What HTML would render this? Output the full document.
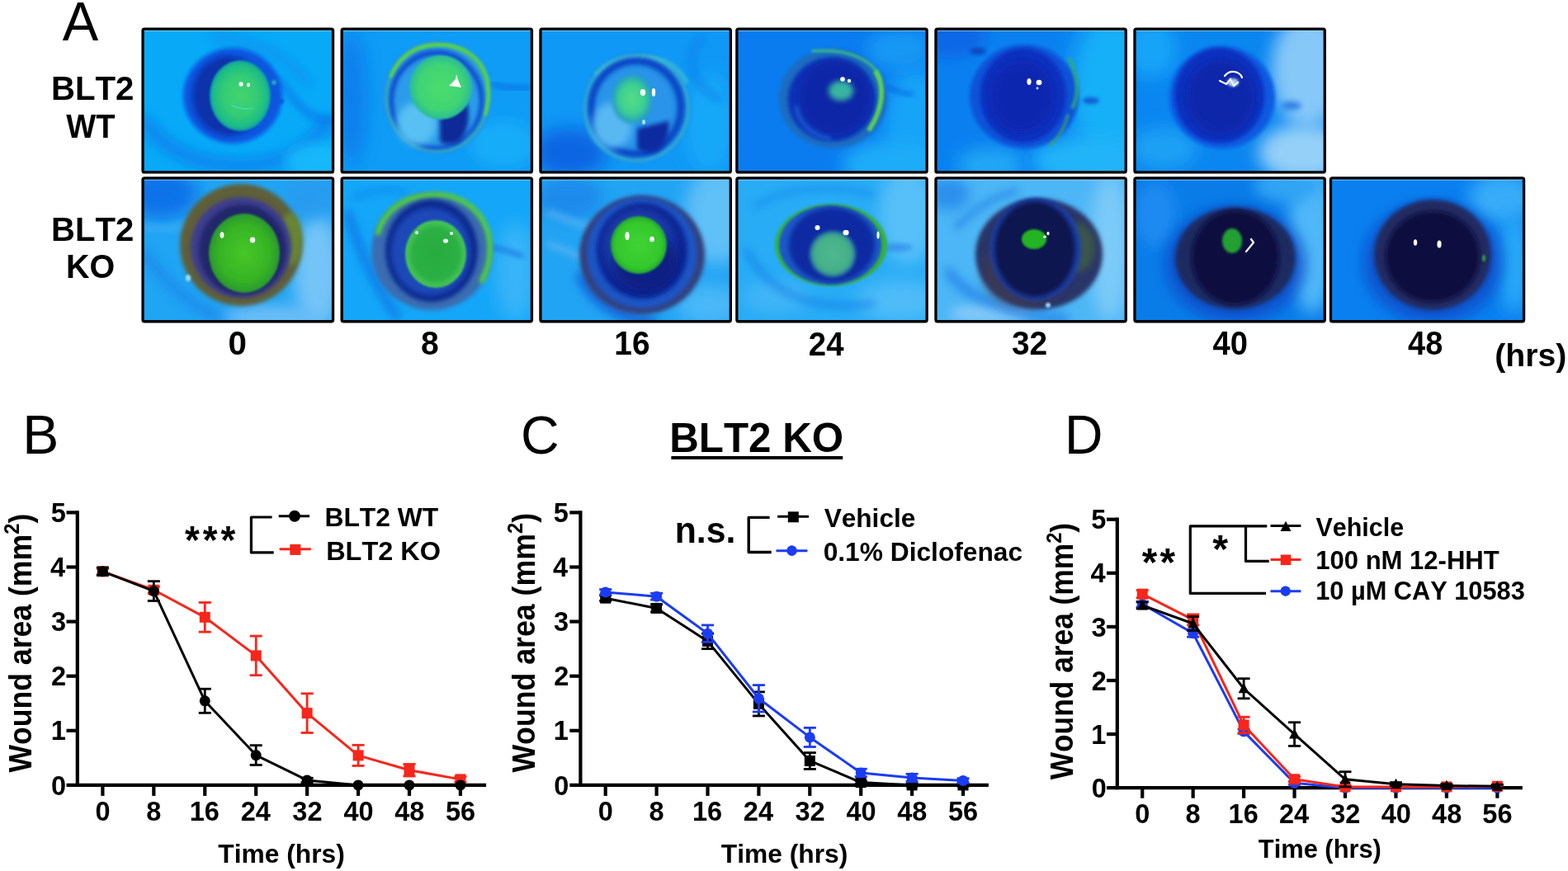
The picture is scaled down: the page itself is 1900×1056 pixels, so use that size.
<!DOCTYPE html>
<html><head><meta charset="utf-8"><title>BLT2 corneal wound healing figure</title>
<style>
html,body{margin:0;padding:0;background:#fff;width:1900px;height:1056px;overflow:hidden}
svg{display:block}
text{font-family:"Liberation Sans", Arial, Helvetica, sans-serif;font-kerning:none}
</style></head><body>
<svg width="1900" height="1056" viewBox="0 0 1900 1056">
<rect width="1900" height="1056" fill="#fff"/>
<defs>
<filter id="b0_3" x="-60%" y="-60%" width="220%" height="220%"><feGaussianBlur stdDeviation="0.3"/></filter>
<filter id="b0_4" x="-60%" y="-60%" width="220%" height="220%"><feGaussianBlur stdDeviation="0.4"/></filter>
<filter id="b0_5" x="-60%" y="-60%" width="220%" height="220%"><feGaussianBlur stdDeviation="0.5"/></filter>
<filter id="b0_6" x="-60%" y="-60%" width="220%" height="220%"><feGaussianBlur stdDeviation="0.6"/></filter>
<filter id="b1" x="-60%" y="-60%" width="220%" height="220%"><feGaussianBlur stdDeviation="1"/></filter>
<filter id="b1_2" x="-60%" y="-60%" width="220%" height="220%"><feGaussianBlur stdDeviation="1.2"/></filter>
<filter id="b1_5" x="-60%" y="-60%" width="220%" height="220%"><feGaussianBlur stdDeviation="1.5"/></filter>
<filter id="b2" x="-60%" y="-60%" width="220%" height="220%"><feGaussianBlur stdDeviation="2"/></filter>
<filter id="b2_2" x="-60%" y="-60%" width="220%" height="220%"><feGaussianBlur stdDeviation="2.2"/></filter>
<filter id="b2_5" x="-60%" y="-60%" width="220%" height="220%"><feGaussianBlur stdDeviation="2.5"/></filter>
<filter id="b3" x="-60%" y="-60%" width="220%" height="220%"><feGaussianBlur stdDeviation="3"/></filter>
<filter id="b4" x="-60%" y="-60%" width="220%" height="220%"><feGaussianBlur stdDeviation="4"/></filter>
<filter id="b5" x="-60%" y="-60%" width="220%" height="220%"><feGaussianBlur stdDeviation="5"/></filter>
<filter id="b6" x="-60%" y="-60%" width="220%" height="220%"><feGaussianBlur stdDeviation="6"/></filter>
<filter id="b7" x="-60%" y="-60%" width="220%" height="220%"><feGaussianBlur stdDeviation="7"/></filter>
<filter id="b8" x="-60%" y="-60%" width="220%" height="220%"><feGaussianBlur stdDeviation="8"/></filter>
<filter id="b10" x="-60%" y="-60%" width="220%" height="220%"><feGaussianBlur stdDeviation="10"/></filter>
<filter id="b12" x="-60%" y="-60%" width="220%" height="220%"><feGaussianBlur stdDeviation="12"/></filter>
<filter id="b14" x="-60%" y="-60%" width="220%" height="220%"><feGaussianBlur stdDeviation="14"/></filter>
<clipPath id="c0_0"><rect x="172.40" y="34.40" width="231.80" height="175.20"/></clipPath>
<radialGradient id="g0"><stop offset="0" stop-color="#44d470"/><stop offset="0.55" stop-color="#34cc74"/><stop offset="0.88" stop-color="#1cbc88"/><stop offset="1" stop-color="#0c98a8"/></radialGradient>
<clipPath id="c1_0"><rect x="413.50" y="34.40" width="231.60" height="175.20"/></clipPath>
<radialGradient id="g1"><stop offset="0" stop-color="#4cdc6c"/><stop offset="0.7" stop-color="#40d474"/><stop offset="1" stop-color="#28bc98"/></radialGradient>
<clipPath id="c2_0"><rect x="654.30" y="34.40" width="231.70" height="175.20"/></clipPath>
<radialGradient id="g2"><stop offset="0" stop-color="#58dc84"/><stop offset="0.6" stop-color="#3cd090"/><stop offset="1" stop-color="#2298c8"/></radialGradient>
<clipPath id="c3_0"><rect x="892.20" y="34.40" width="231.60" height="175.20"/></clipPath>
<clipPath id="c4_0"><rect x="1133.30" y="34.40" width="231.60" height="175.20"/></clipPath>
<clipPath id="c5_0"><rect x="1374.30" y="34.40" width="231.60" height="175.20"/></clipPath>
<clipPath id="c0_1"><rect x="172.40" y="215.20" width="231.80" height="175.20"/></clipPath>
<radialGradient id="g3"><stop offset="0" stop-color="#48c628"/><stop offset="0.7" stop-color="#36b424"/><stop offset="1" stop-color="#2a9830"/></radialGradient>
<clipPath id="c1_1"><rect x="413.50" y="215.20" width="231.60" height="175.20"/></clipPath>
<radialGradient id="g4"><stop offset="0" stop-color="#28ac40"/><stop offset="0.75" stop-color="#2cb044"/><stop offset="1" stop-color="#48c858"/></radialGradient>
<clipPath id="c2_1"><rect x="654.30" y="215.20" width="231.70" height="175.20"/></clipPath>
<radialGradient id="g5"><stop offset="0" stop-color="#40d434"/><stop offset="0.8" stop-color="#34c82c"/><stop offset="1" stop-color="#22a832"/></radialGradient>
<clipPath id="c3_1"><rect x="892.20" y="215.20" width="231.60" height="175.20"/></clipPath>
<radialGradient id="g6"><stop offset="0" stop-color="#50b890"/><stop offset="0.75" stop-color="#44b088"/><stop offset="1" stop-color="#2a80a0"/></radialGradient>
<clipPath id="c4_1"><rect x="1133.30" y="215.20" width="231.60" height="175.20"/></clipPath>
<clipPath id="c5_1"><rect x="1374.30" y="215.20" width="231.60" height="175.20"/></clipPath>
<clipPath id="c6_1"><rect x="1611.80" y="215.20" width="235.40" height="175.20"/></clipPath>
</defs>
<g clip-path="url(#c0_0)">
<rect x="171.40" y="33.40" width="233.80" height="177.20" fill="#08aaf8"/>
<path d="M178,150 C200,185 250,205 310,200 C350,195 380,175 395,150" fill="none" stroke="#0a84ee" stroke-width="18" stroke-linecap="round" filter="url(#b7)" opacity="0.9"/>
<path d="M260,45 C310,48 350,70 372,100" fill="none" stroke="#0a90f0" stroke-width="12" stroke-linecap="round" filter="url(#b6)" opacity="0.7"/>
<path d="M335,95 C350,110 360,130 378,140 C388,145 396,146 402,146" fill="none" stroke="#0a6ae4" stroke-width="7" stroke-linecap="round" filter="url(#b4)" opacity="0.7"/>
<ellipse cx="385" cy="195" rx="40" ry="22" fill="#18b8fa" filter="url(#b8)"/>
<ellipse cx="282" cy="116" rx="60" ry="58" fill="#0a56e0" filter="url(#b2_5)"/>
<ellipse cx="277" cy="116" rx="44" ry="48" fill="#0830aa" filter="url(#b3)"/>
<ellipse cx="291" cy="116" rx="37" ry="43" fill="url(#g0)" filter="url(#b1)"/>
<ellipse cx="292" cy="102" rx="2.6" ry="2.8" fill="#ffffff" filter="url(#b0_5)"/>
<ellipse cx="301" cy="103" rx="2" ry="2.4" fill="#e8ffff" filter="url(#b0_5)"/>
<path d="M281,128 C288,131 298,133 306,131" fill="none" stroke="#40e0c8" stroke-width="1.5" stroke-linecap="round" filter="url(#b0_6)" opacity="0.8"/>
<ellipse cx="332" cy="100" rx="3" ry="3" fill="#30b8b8" filter="url(#b1)" opacity="0.8"/>
<ellipse cx="341" cy="123" rx="3" ry="3" fill="#0a50e0" filter="url(#b1)" opacity="0.8"/>
<rect x="174.70" y="36.70" width="227.20" height="1.2" fill="#a8e0ff" opacity="0.7"/>
</g>
<rect x="173.05" y="35.05" width="230.50" height="173.90" rx="2" fill="none" stroke="#000" stroke-width="3.30"/>
<g clip-path="url(#c1_0)">
<rect x="412.50" y="33.40" width="233.60" height="177.20" fill="#0e9cf6"/>
<ellipse cx="425" cy="120" rx="20" ry="80" fill="#0a78ea" filter="url(#b10)" opacity="0.8"/>
<path d="M596,102 C610,106 625,108 642,106" fill="none" stroke="#0a58d8" stroke-width="5" stroke-linecap="round" filter="url(#b3)" opacity="0.6"/>
<ellipse cx="610" cy="175" rx="40" ry="30" fill="#18acf8" filter="url(#b8)"/>
<ellipse cx="529.4" cy="118.2" rx="65" ry="67.7" fill="#2a8ee6" filter="url(#b2)"/>
<ellipse cx="529.4" cy="119" rx="61" ry="64" fill="none" stroke="#30b0b0" stroke-width="3.5" filter="url(#b1_5)" opacity="0.9"/>
<path d="M474,92 C485,66 505,55 530,54 C560,54 582,68 590,95 C593,110 592,125 588,138" fill="none" stroke="#58d050" stroke-width="5" stroke-linecap="round" filter="url(#b1_5)"/>
<ellipse cx="529" cy="121" rx="54" ry="57" fill="none" stroke="#0a4ccc" stroke-width="6" filter="url(#b2)"/>
<ellipse cx="529" cy="124" rx="50" ry="52" fill="#2a9cea" filter="url(#b3)"/>
<ellipse cx="505" cy="150" rx="24" ry="26" fill="#58c0f2" filter="url(#b4)"/>
<path d="M533,140 C545,136 560,130 566,124 C570,140 568,160 556,172 C546,176 538,175 533,172 Z" fill="#0a2a98" filter="url(#b2_5)"/>
<ellipse cx="534" cy="106" rx="38" ry="39" fill="url(#g1)" filter="url(#b1)"/>
<path d="M544,104 L552,96 L553,90 L555,97 L559,106 Z" fill="#ffffff" filter="url(#b0_6)"/>
<rect x="415.80" y="36.70" width="227.00" height="1.2" fill="#a8e0ff" opacity="0.7"/>
</g>
<rect x="414.15" y="35.05" width="230.30" height="173.90" rx="2" fill="none" stroke="#000" stroke-width="3.30"/>
<g clip-path="url(#c2_0)">
<rect x="653.30" y="33.40" width="233.70" height="177.20" fill="#1098f6"/>
<ellipse cx="690" cy="185" rx="45" ry="30" fill="#0a60e0" filter="url(#b10)" opacity="0.9"/>
<ellipse cx="860" cy="150" rx="30" ry="60" fill="#14a8f8" filter="url(#b10)"/>
<path d="M850,45 C830,70 835,100 870,120" fill="none" stroke="#0a7ce8" stroke-width="8" stroke-linecap="round" filter="url(#b5)" opacity="0.6"/>
<ellipse cx="771.5" cy="131" rx="65" ry="66" fill="#1a86e0" filter="url(#b2)"/>
<ellipse cx="771.5" cy="131" rx="62" ry="63" fill="none" stroke="#38b8d0" stroke-width="4" filter="url(#b2)" opacity="0.9"/>
<path d="M722,90 C735,75 760,68 790,70 C810,73 825,85 832,100" fill="none" stroke="#50c8c8" stroke-width="4" stroke-linecap="round" filter="url(#b2)" opacity="0.8"/>
<ellipse cx="771" cy="130" rx="54" ry="56" fill="none" stroke="#0a48c8" stroke-width="9" filter="url(#b2)"/>
<ellipse cx="770" cy="131" rx="47" ry="49" fill="#2a94ea" filter="url(#b3)"/>
<ellipse cx="742" cy="152" rx="24" ry="28" fill="#58b8f2" filter="url(#b4)"/>
<path d="M772,156 C785,152 800,150 810,146 C812,160 808,176 795,184 C785,186 776,184 772,180 Z" fill="#0a2ca0" filter="url(#b2_5)"/>
<ellipse cx="766" cy="120" rx="25" ry="30" fill="url(#g2)" filter="url(#b2_2)"/>
<ellipse cx="779" cy="112" rx="3.2" ry="4" fill="#ffffff" filter="url(#b0_5)"/>
<ellipse cx="792" cy="112" rx="2.2" ry="5" fill="#ffffff" filter="url(#b0_5)"/>
<ellipse cx="780" cy="148" rx="2" ry="3" fill="#a0e0f0" filter="url(#b0_5)"/>
<rect x="656.60" y="36.70" width="227.10" height="1.2" fill="#a8e0ff" opacity="0.7"/>
</g>
<rect x="654.95" y="35.05" width="230.40" height="173.90" rx="2" fill="none" stroke="#000" stroke-width="3.30"/>
<g clip-path="url(#c3_0)">
<rect x="891.20" y="33.40" width="233.60" height="177.20" fill="#0a7cf0"/>
<ellipse cx="1110" cy="150" rx="40" ry="70" fill="#14a4f8" filter="url(#b12)"/>
<ellipse cx="1080" cy="200" rx="60" ry="30" fill="#1aacf8" filter="url(#b10)"/>
<ellipse cx="1090" cy="60" rx="40" ry="25" fill="#1898f4" filter="url(#b10)"/>
<path d="M1075,106 C1085,110 1095,114 1105,114" fill="none" stroke="#0a50d8" stroke-width="5" stroke-linecap="round" filter="url(#b3)" opacity="0.6"/>
<ellipse cx="1009.6" cy="119.3" rx="65.8" ry="60.3" fill="#1a6cc0" filter="url(#b2)"/>
<path d="M985,62 C1030,58 1060,75 1066,95" fill="none" stroke="#38b890" stroke-width="4" stroke-linecap="round" filter="url(#b1_5)" opacity="0.9"/>
<path d="M1062,88 C1072,105 1070,130 1054,156" fill="none" stroke="#5cd058" stroke-width="6" stroke-linecap="round" filter="url(#b1_5)"/>
<ellipse cx="1007.7" cy="120.6" rx="53" ry="50.5" fill="#0a30b8" filter="url(#b2)"/>
<ellipse cx="1012" cy="118" rx="45" ry="46" fill="#0a28a8" filter="url(#b4)"/>
<path d="M965,130 C968,150 985,165 1005,168" fill="none" stroke="#1a60d0" stroke-width="5" stroke-linecap="round" filter="url(#b2_5)" opacity="0.9"/>
<ellipse cx="1019" cy="110" rx="15" ry="12" fill="#38b4a0" filter="url(#b3)"/>
<ellipse cx="1021" cy="96" rx="2.8" ry="2.8" fill="#ffffff" filter="url(#b0_5)"/>
<ellipse cx="1029" cy="98" rx="2.2" ry="2.2" fill="#ffffff" filter="url(#b0_5)"/>
<rect x="894.50" y="36.70" width="227.00" height="1.2" fill="#a8e0ff" opacity="0.7"/>
</g>
<rect x="892.85" y="35.05" width="230.30" height="173.90" rx="2" fill="none" stroke="#000" stroke-width="3.30"/>
<g clip-path="url(#c4_0)">
<rect x="1132.30" y="33.40" width="233.60" height="177.20" fill="#0a80f0"/>
<ellipse cx="1350" cy="110" rx="55" ry="100" fill="#18b0f8" filter="url(#b14)"/>
<ellipse cx="1320" cy="195" rx="70" ry="30" fill="#20b4f8" filter="url(#b10)"/>
<ellipse cx="1200" cy="200" rx="40" ry="20" fill="#20a8f4" filter="url(#b10)"/>
<ellipse cx="1150" cy="45" rx="45" ry="25" fill="#0a68e6" filter="url(#b8)"/>
<ellipse cx="1185" cy="62" rx="10" ry="4" fill="#0a3ab0" filter="url(#b2)" opacity="0.8"/>
<ellipse cx="1322" cy="122" rx="10" ry="4" fill="#0a48c8" filter="url(#b2)" opacity="0.8"/>
<ellipse cx="1241" cy="117" rx="66" ry="63" fill="#0a52d8" filter="url(#b2)"/>
<path d="M1296,72 C1306,90 1308,112 1300,130" fill="none" stroke="#30a878" stroke-width="5" stroke-linecap="round" filter="url(#b1_5)" opacity="0.8"/>
<path d="M1294,140 C1290,155 1282,168 1272,176" fill="none" stroke="#40a070" stroke-width="4" stroke-linecap="round" filter="url(#b1_5)" opacity="0.7"/>
<ellipse cx="1240" cy="115.5" rx="52" ry="57" fill="#0a30c0" filter="url(#b2)"/>
<ellipse cx="1238" cy="117" rx="40" ry="45" fill="#0a28b0" filter="url(#b6)"/>
<ellipse cx="1247" cy="99" rx="2.6" ry="4" fill="#ffffff" filter="url(#b0_5)"/>
<ellipse cx="1259" cy="100" rx="3.4" ry="3.2" fill="#ffffff" filter="url(#b0_5)"/>
<ellipse cx="1257" cy="107" rx="1.4" ry="1.4" fill="#c0f0ff" filter="url(#b0_3)"/>
<rect x="1135.60" y="36.70" width="227.00" height="1.2" fill="#a8e0ff" opacity="0.7"/>
</g>
<rect x="1133.95" y="35.05" width="230.30" height="173.90" rx="2" fill="none" stroke="#000" stroke-width="3.30"/>
<g clip-path="url(#c5_0)">
<rect x="1373.30" y="33.40" width="233.60" height="177.20" fill="#0a86f0"/>
<ellipse cx="1395" cy="60" rx="30" ry="35" fill="#14a4f8" filter="url(#b10)"/>
<ellipse cx="1410" cy="180" rx="40" ry="25" fill="#1aa0f4" filter="url(#b10)"/>
<ellipse cx="1585" cy="85" rx="45" ry="70" fill="#86c8f8" filter="url(#b10)"/>
<ellipse cx="1580" cy="185" rx="55" ry="35" fill="#94d0f8" filter="url(#b10)"/>
<ellipse cx="1565" cy="128" rx="12" ry="5" fill="#0a60e0" filter="url(#b3)" opacity="0.7"/>
<ellipse cx="1481" cy="118" rx="64" ry="62" fill="#0a5ae0" filter="url(#b2)"/>
<ellipse cx="1477.6" cy="115.5" rx="54.4" ry="57.5" fill="#0a30c0" filter="url(#b2)"/>
<ellipse cx="1479" cy="118" rx="42" ry="46" fill="#0a26aa" filter="url(#b6)"/>
<path d="M1484,92 C1490,84 1502,86 1505,94" fill="none" stroke="#ffffff" stroke-width="2.2" stroke-linecap="round" filter="url(#b0_6)"/>
<path d="M1478,98 L1486,102 L1491,96 L1495,104 L1500,100" fill="none" stroke="#ffffff" stroke-width="2.2" stroke-linecap="round" filter="url(#b0_6)"/>
<ellipse cx="1494" cy="100" rx="7" ry="5" fill="#e0f4ff" filter="url(#b1_5)" opacity="0.8"/>
<rect x="1376.60" y="36.70" width="227.00" height="1.2" fill="#a8e0ff" opacity="0.7"/>
</g>
<rect x="1374.95" y="35.05" width="230.30" height="173.90" rx="2" fill="none" stroke="#000" stroke-width="3.30"/>
<g clip-path="url(#c0_1)">
<rect x="171.40" y="214.20" width="233.80" height="177.20" fill="#20a4f4"/>
<ellipse cx="195" cy="235" rx="45" ry="30" fill="#0a72e8" filter="url(#b10)"/>
<path d="M176,310 C200,340 235,380 290,392" fill="none" stroke="#1a88ea" stroke-width="12" stroke-linecap="round" filter="url(#b6)" opacity="0.8"/>
<ellipse cx="385" cy="330" rx="30" ry="70" fill="#74c4f8" filter="url(#b10)"/>
<ellipse cx="330" cy="385" rx="60" ry="15" fill="#6cbef6" filter="url(#b8)"/>
<ellipse cx="375" cy="240" rx="30" ry="25" fill="#2a9aee" filter="url(#b8)" opacity="0.8"/>
<path d="M176,275 C205,280 225,275 240,265" fill="none" stroke="#40b0f4" stroke-width="8" stroke-linecap="round" filter="url(#b4)" opacity="0.8"/>
<ellipse cx="292" cy="297" rx="74" ry="74" fill="#5e5e38" filter="url(#b2_5)"/>
<ellipse cx="352" cy="290" rx="14" ry="32" fill="#6a8a30" filter="url(#b3)" opacity="0.9"/>
<ellipse cx="292" cy="300" rx="61" ry="61" fill="#3c3e90" filter="url(#b2_5)"/>
<ellipse cx="294" cy="303" rx="53" ry="55" fill="#22286a" filter="url(#b2_5)"/>
<ellipse cx="296" cy="307" rx="43" ry="48" fill="url(#g3)" filter="url(#b1)"/>
<ellipse cx="269" cy="285" rx="2.4" ry="3.8" fill="#ffffff" filter="url(#b0_5)"/>
<ellipse cx="306" cy="291" rx="3.2" ry="3.4" fill="#ffffff" filter="url(#b0_5)"/>
<ellipse cx="228" cy="337" rx="3" ry="4" fill="#9adcf8" filter="url(#b1)"/>
<rect x="174.70" y="217.50" width="227.20" height="1.2" fill="#a8e0ff" opacity="0.7"/>
</g>
<rect x="173.05" y="215.85" width="230.50" height="173.90" rx="2" fill="none" stroke="#000" stroke-width="3.30"/>
<g clip-path="url(#c1_1)">
<rect x="412.50" y="214.20" width="233.60" height="177.20" fill="#14a6f8"/>
<path d="M422,260 C435,300 450,340 480,382" fill="none" stroke="#0a74e4" stroke-width="10" stroke-linecap="round" filter="url(#b5)" opacity="0.8"/>
<path d="M430,240 C450,230 470,228 490,232" fill="none" stroke="#0a80e8" stroke-width="6" stroke-linecap="round" filter="url(#b4)" opacity="0.6"/>
<ellipse cx="625" cy="330" rx="25" ry="60" fill="#38b4f8" filter="url(#b10)"/>
<path d="M596,300 C608,302 620,306 632,310" fill="none" stroke="#0a58d8" stroke-width="5" stroke-linecap="round" filter="url(#b3)" opacity="0.6"/>
<ellipse cx="523" cy="305" rx="73" ry="71" fill="#3a6cb0" filter="url(#b2_5)"/>
<path d="M458,282 C466,255 490,238 522,236 C555,234 584,252 592,285 C596,305 592,325 584,340" fill="none" stroke="#50c848" stroke-width="7" stroke-linecap="round" filter="url(#b2)"/>
<ellipse cx="523" cy="304" rx="56" ry="62" fill="#0a2a90" filter="url(#b2_5)"/>
<ellipse cx="522" cy="305" rx="48" ry="53" fill="#1a4ab8" filter="url(#b3)"/>
<ellipse cx="528" cy="308" rx="37" ry="41" fill="url(#g4)" filter="url(#b1)"/>
<ellipse cx="505" cy="282" rx="2" ry="2" fill="#d8f8ff" filter="url(#b0_5)"/>
<ellipse cx="547" cy="283" rx="2" ry="2" fill="#ffffff" filter="url(#b0_5)"/>
<ellipse cx="540" cy="292" rx="3" ry="2.6" fill="#ffffff" filter="url(#b0_5)"/>
<rect x="415.80" y="217.50" width="227.00" height="1.2" fill="#a8e0ff" opacity="0.7"/>
</g>
<rect x="414.15" y="215.85" width="230.30" height="173.90" rx="2" fill="none" stroke="#000" stroke-width="3.30"/>
<g clip-path="url(#c2_1)">
<rect x="653.30" y="214.20" width="233.70" height="177.20" fill="#22a4f4"/>
<ellipse cx="870" cy="260" rx="40" ry="60" fill="#60c0f8" filter="url(#b10)"/>
<ellipse cx="860" cy="370" rx="40" ry="25" fill="#48b8f8" filter="url(#b10)"/>
<ellipse cx="690" cy="240" rx="40" ry="25" fill="#1a88ea" filter="url(#b8)" opacity="0.9"/>
<path d="M665,258 C690,266 700,274 720,274" fill="none" stroke="#60b8f4" stroke-width="7" stroke-linecap="round" filter="url(#b4)" opacity="0.8"/>
<path d="M665,296 C690,304 700,312 710,312" fill="none" stroke="#60b8f4" stroke-width="7" stroke-linecap="round" filter="url(#b4)" opacity="0.8"/>
<path d="M705,335 C715,360 745,385 790,390" fill="none" stroke="#0a50d0" stroke-width="12" stroke-linecap="round" filter="url(#b6)" opacity="0.8"/>
<ellipse cx="778" cy="309" rx="76" ry="72" fill="#36407a" filter="url(#b2_5)"/>
<ellipse cx="778" cy="307" rx="67" ry="67" fill="#1a54c4" filter="url(#b2_5)"/>
<ellipse cx="778" cy="304" rx="55" ry="58" fill="#0a2694" filter="url(#b2_5)"/>
<ellipse cx="775" cy="300" rx="44" ry="46" fill="#1a3aa8" filter="url(#b5)"/>
<ellipse cx="782" cy="318" rx="40" ry="36" fill="#0a1a80" filter="url(#b6)" opacity="0.9"/>
<ellipse cx="774" cy="297" rx="34" ry="35" fill="url(#g5)" filter="url(#b1)"/>
<ellipse cx="760" cy="286" rx="2.6" ry="5" fill="#ffffff" filter="url(#b0_5)"/>
<ellipse cx="790" cy="290" rx="2.8" ry="3.2" fill="#ffffff" filter="url(#b0_5)"/>
<rect x="656.60" y="217.50" width="227.10" height="1.2" fill="#a8e0ff" opacity="0.7"/>
</g>
<rect x="654.95" y="215.85" width="230.40" height="173.90" rx="2" fill="none" stroke="#000" stroke-width="3.30"/>
<g clip-path="url(#c3_1)">
<rect x="891.20" y="214.20" width="233.60" height="177.20" fill="#28acf6"/>
<ellipse cx="1100" cy="260" rx="35" ry="60" fill="#58c0f8" filter="url(#b10)"/>
<ellipse cx="1090" cy="365" rx="50" ry="25" fill="#50bcf8" filter="url(#b10)"/>
<ellipse cx="940" cy="360" rx="40" ry="20" fill="#40b4f6" filter="url(#b8)"/>
<path d="M905,305 C935,360 990,378 1058,368" fill="none" stroke="#0a6ce2" stroke-width="7" stroke-linecap="round" filter="url(#b5)" opacity="0.5"/>
<path d="M915,250 C950,228 1010,222 1058,236" fill="none" stroke="#0a78e4" stroke-width="6" stroke-linecap="round" filter="url(#b5)" opacity="0.45"/>
<ellipse cx="1088" cy="300" rx="18" ry="4" fill="#0a60e0" filter="url(#b3)" opacity="0.5"/>
<ellipse cx="1007" cy="297" rx="68" ry="50" fill="#34b040" filter="url(#b1_5)"/>
<ellipse cx="1006" cy="297" rx="62" ry="48" fill="#1a56c8" filter="url(#b1_5)"/>
<ellipse cx="1008" cy="297" rx="52" ry="45" fill="#0a2ca2" filter="url(#b2_5)"/>
<ellipse cx="1009" cy="308" rx="28" ry="28" fill="url(#g6)" filter="url(#b2)"/>
<ellipse cx="990.5" cy="276" rx="3" ry="3" fill="#ffffff" filter="url(#b0_5)"/>
<ellipse cx="1025" cy="282" rx="3.6" ry="3.2" fill="#ffffff" filter="url(#b0_5)"/>
<ellipse cx="1064" cy="285" rx="1.6" ry="4.5" fill="#e8fff8" filter="url(#b0_5)"/>
<rect x="894.50" y="217.50" width="227.00" height="1.2" fill="#a8e0ff" opacity="0.7"/>
</g>
<rect x="892.85" y="215.85" width="230.30" height="173.90" rx="2" fill="none" stroke="#000" stroke-width="3.30"/>
<g clip-path="url(#c4_1)">
<rect x="1132.30" y="214.20" width="233.60" height="177.20" fill="#4cb6f6"/>
<ellipse cx="1150" cy="235" rx="25" ry="20" fill="#2a90ec" filter="url(#b8)"/>
<ellipse cx="1345" cy="300" rx="25" ry="90" fill="#7ccaf8" filter="url(#b10)"/>
<ellipse cx="1200" cy="380" rx="50" ry="12" fill="#80c8f8" filter="url(#b6)"/>
<path d="M1150,330 C1170,360 1220,382 1290,386" fill="none" stroke="#1a78e6" stroke-width="10" stroke-linecap="round" filter="url(#b6)" opacity="0.8"/>
<path d="M1160,275 C1178,255 1200,240 1230,232" fill="none" stroke="#2a88e8" stroke-width="8" stroke-linecap="round" filter="url(#b5)" opacity="0.8"/>
<ellipse cx="1259" cy="308" rx="77" ry="67" fill="#2a3468" filter="url(#b2_5)"/>
<ellipse cx="1240" cy="330" rx="50" ry="42" fill="#3c3a52" filter="url(#b6)" opacity="0.8"/>
<ellipse cx="1305" cy="300" rx="22" ry="30" fill="#3e5a46" filter="url(#b4)" opacity="0.9"/>
<ellipse cx="1255" cy="302" rx="55" ry="62" fill="#1a40a8" filter="url(#b2)"/>
<ellipse cx="1254" cy="302" rx="49" ry="58" fill="#0c1650" filter="url(#b2_5)"/>
<ellipse cx="1253" cy="290" rx="15" ry="12" fill="#22b424" filter="url(#b1_2)"/>
<ellipse cx="1270" cy="283" rx="1.6" ry="2.2" fill="#ffffff" filter="url(#b0_4)"/>
<ellipse cx="1266" cy="287" rx="2" ry="1.6" fill="#ffffff" filter="url(#b0_4)"/>
<ellipse cx="1270" cy="370" rx="3" ry="3" fill="#a0d0f8" filter="url(#b1)"/>
<rect x="1135.60" y="217.50" width="227.00" height="1.2" fill="#a8e0ff" opacity="0.7"/>
</g>
<rect x="1133.95" y="215.85" width="230.30" height="173.90" rx="2" fill="none" stroke="#000" stroke-width="3.30"/>
<g clip-path="url(#c5_1)">
<rect x="1373.30" y="214.20" width="233.60" height="177.20" fill="#0a7ce8"/>
<ellipse cx="1590" cy="290" rx="30" ry="90" fill="#50b8f8" filter="url(#b10)"/>
<ellipse cx="1560" cy="225" rx="40" ry="20" fill="#30a4f4" filter="url(#b8)"/>
<ellipse cx="1400" cy="260" rx="25" ry="40" fill="#1a8af0" filter="url(#b8)"/>
<ellipse cx="1497" cy="320" rx="85" ry="70" fill="#0a48c8" filter="url(#b8)" opacity="0.8"/>
<ellipse cx="1497" cy="313" rx="73" ry="62" fill="#1e2a60" filter="url(#b2_5)"/>
<ellipse cx="1497" cy="312" rx="53" ry="57" fill="#081040" filter="url(#b2_5)"/>
<ellipse cx="1493" cy="292" rx="12" ry="15" fill="#22a032" filter="url(#b1_5)"/>
<path d="M1516,290 L1519,294 L1510,305" fill="none" stroke="#ffffff" stroke-width="2.2" stroke-linecap="round" filter="url(#b0_5)"/>
<rect x="1376.60" y="217.50" width="227.00" height="1.2" fill="#a8e0ff" opacity="0.7"/>
</g>
<rect x="1374.95" y="215.85" width="230.30" height="173.90" rx="2" fill="none" stroke="#000" stroke-width="3.30"/>
<g clip-path="url(#c6_1)">
<rect x="1610.80" y="214.20" width="237.40" height="177.20" fill="#0a80f0"/>
<ellipse cx="1820" cy="240" rx="40" ry="30" fill="#38acf8" filter="url(#b10)"/>
<ellipse cx="1835" cy="320" rx="20" ry="60" fill="#28a8f8" filter="url(#b10)"/>
<ellipse cx="1736" cy="318" rx="85" ry="74" fill="#0a4cc8" filter="url(#b8)" opacity="0.8"/>
<ellipse cx="1736" cy="309" rx="71" ry="67" fill="#222a60" filter="url(#b2_5)"/>
<ellipse cx="1736" cy="311" rx="57" ry="55" fill="#0a1040" filter="url(#b2_5)"/>
<ellipse cx="1798" cy="313" rx="2" ry="4" fill="#30a040" filter="url(#b1)"/>
<ellipse cx="1715" cy="294" rx="2.2" ry="3.8" fill="#ffffff" filter="url(#b0_5)"/>
<ellipse cx="1744" cy="296" rx="2.6" ry="4.6" fill="#ffffff" filter="url(#b0_5)"/>
<rect x="1614.10" y="217.50" width="230.80" height="1.2" fill="#a8e0ff" opacity="0.7"/>
</g>
<rect x="1612.45" y="215.85" width="234.10" height="173.90" rx="2" fill="none" stroke="#000" stroke-width="3.30"/>
<text transform="translate(75.77 48.90) scale(0.9787 1)" font-size="66.57" font-weight="normal" fill="#000">A</text>
<text transform="translate(62.01 120.70) scale(1.0050 1)" font-size="39.96" font-weight="bold" fill="#000">BLT2</text>
<text transform="translate(80.26 166.60) scale(0.9381 1)" font-size="40.55" font-weight="bold" fill="#000">WT</text>
<text transform="translate(62.01 291.70)" font-size="40.10" font-weight="bold" fill="#000">BLT2</text>
<text transform="translate(80.06 337.01) scale(0.9908 1)" font-size="39.83" font-weight="bold" fill="#000">KO</text>
<text transform="translate(276.60 430.21) scale(1.0029 1)" font-size="40.25" font-weight="bold" fill="#000">0</text>
<text transform="translate(509.96 430.21) scale(0.9712 1)" font-size="40.25" font-weight="bold" fill="#000">8</text>
<text transform="translate(744.35 430.21) scale(0.9661 1)" font-size="40.25" font-weight="bold" fill="#000">16</text>
<text transform="translate(979.87 430.60) scale(0.9391 1)" font-size="40.82" font-weight="bold" fill="#000">24</text>
<text transform="translate(1225.91 430.15) scale(0.9679 1)" font-size="40.17" font-weight="bold" fill="#000">32</text>
<text transform="translate(1469.52 430.21) scale(0.9479 1)" font-size="40.25" font-weight="bold" fill="#000">40</text>
<text transform="translate(1706.03 430.21) scale(0.9435 1)" font-size="40.25" font-weight="bold" fill="#000">48</text>
<text transform="translate(1811.15 444.17) scale(1.0022 1)" font-size="39.16" font-weight="bold" fill="#000">(hrs)</text>
<text transform="translate(27.37 550.30) scale(0.9892 1)" font-size="66.86" font-weight="normal" fill="#000">B</text>
<line x1="93.80" y1="619.30" x2="93.80" y2="954.00" stroke="#000" stroke-width="4.20" stroke-linecap="butt"/>
<line x1="80.50" y1="951.90" x2="589.10" y2="951.90" stroke="#000" stroke-width="4.20" stroke-linecap="butt"/>
<line x1="80.50" y1="885.80" x2="93.80" y2="885.80" stroke="#000" stroke-width="4.20" stroke-linecap="butt"/>
<line x1="80.50" y1="819.70" x2="93.80" y2="819.70" stroke="#000" stroke-width="4.20" stroke-linecap="butt"/>
<line x1="80.50" y1="753.60" x2="93.80" y2="753.60" stroke="#000" stroke-width="4.20" stroke-linecap="butt"/>
<line x1="80.50" y1="687.50" x2="93.80" y2="687.50" stroke="#000" stroke-width="4.20" stroke-linecap="butt"/>
<line x1="80.50" y1="621.40" x2="93.80" y2="621.40" stroke="#000" stroke-width="4.20" stroke-linecap="butt"/>
<line x1="124.40" y1="951.90" x2="124.40" y2="964.90" stroke="#000" stroke-width="4.20" stroke-linecap="butt"/>
<line x1="186.33" y1="951.90" x2="186.33" y2="964.90" stroke="#000" stroke-width="4.20" stroke-linecap="butt"/>
<line x1="248.26" y1="951.90" x2="248.26" y2="964.90" stroke="#000" stroke-width="4.20" stroke-linecap="butt"/>
<line x1="310.19" y1="951.90" x2="310.19" y2="964.90" stroke="#000" stroke-width="4.20" stroke-linecap="butt"/>
<line x1="372.12" y1="951.90" x2="372.12" y2="964.90" stroke="#000" stroke-width="4.20" stroke-linecap="butt"/>
<line x1="434.05" y1="951.90" x2="434.05" y2="964.90" stroke="#000" stroke-width="4.20" stroke-linecap="butt"/>
<line x1="495.98" y1="951.90" x2="495.98" y2="964.90" stroke="#000" stroke-width="4.20" stroke-linecap="butt"/>
<line x1="557.91" y1="951.90" x2="557.91" y2="964.90" stroke="#000" stroke-width="4.20" stroke-linecap="butt"/>
<text x="62.06" y="963.50" font-size="32.50" font-weight="bold">0</text>
<text x="61.63" y="897.40" font-size="32.50" font-weight="bold">1</text>
<text x="62.03" y="831.30" font-size="32.50" font-weight="bold">2</text>
<text x="61.90" y="765.20" font-size="32.50" font-weight="bold">3</text>
<text x="60.90" y="699.10" font-size="32.50" font-weight="bold">4</text>
<text x="61.63" y="633.00" font-size="32.50" font-weight="bold">5</text>
<text x="115.39" y="995.00" font-size="32.50" font-weight="bold" fill="#000">0</text>
<text x="177.28" y="995.00" font-size="32.50" font-weight="bold" fill="#000">8</text>
<text x="229.75" y="995.00" font-size="32.50" font-weight="bold" fill="#000">16</text>
<text x="291.64" y="995.00" font-size="32.50" font-weight="bold" fill="#000">24</text>
<text x="354.32" y="995.00" font-size="32.50" font-weight="bold" fill="#000">32</text>
<text x="416.40" y="995.00" font-size="32.50" font-weight="bold" fill="#000">40</text>
<text x="478.16" y="995.00" font-size="32.50" font-weight="bold" fill="#000">48</text>
<text x="539.92" y="995.00" font-size="32.50" font-weight="bold" fill="#000">56</text>
<polyline points="124.40,692.79 186.33,715.26 248.26,748.31 310.19,794.91 372.12,864.65 434.05,915.88 495.98,933.72 557.91,944.89" fill="none" stroke="#f7261b" stroke-width="3.00" stroke-linejoin="round"/>
<line x1="124.40" y1="689.48" x2="124.40" y2="696.09" stroke="#f7261b" stroke-width="2.80" stroke-linecap="butt"/>
<line x1="116.90" y1="689.48" x2="131.90" y2="689.48" stroke="#f7261b" stroke-width="2.80" stroke-linecap="butt"/>
<line x1="116.90" y1="696.09" x2="131.90" y2="696.09" stroke="#f7261b" stroke-width="2.80" stroke-linecap="butt"/>
<rect x="117.90" y="686.29" width="13.00" height="13.00" fill="#f7261b"/>
<line x1="186.33" y1="711.30" x2="186.33" y2="719.23" stroke="#f7261b" stroke-width="2.80" stroke-linecap="butt"/>
<line x1="178.83" y1="711.30" x2="193.83" y2="711.30" stroke="#f7261b" stroke-width="2.80" stroke-linecap="butt"/>
<line x1="178.83" y1="719.23" x2="193.83" y2="719.23" stroke="#f7261b" stroke-width="2.80" stroke-linecap="butt"/>
<rect x="179.83" y="708.76" width="13.00" height="13.00" fill="#f7261b"/>
<line x1="248.26" y1="730.47" x2="248.26" y2="766.16" stroke="#f7261b" stroke-width="2.80" stroke-linecap="butt"/>
<line x1="240.76" y1="730.47" x2="255.76" y2="730.47" stroke="#f7261b" stroke-width="2.80" stroke-linecap="butt"/>
<line x1="240.76" y1="766.16" x2="255.76" y2="766.16" stroke="#f7261b" stroke-width="2.80" stroke-linecap="butt"/>
<rect x="241.76" y="741.81" width="13.00" height="13.00" fill="#f7261b"/>
<line x1="310.19" y1="771.12" x2="310.19" y2="818.71" stroke="#f7261b" stroke-width="2.80" stroke-linecap="butt"/>
<line x1="302.69" y1="771.12" x2="317.69" y2="771.12" stroke="#f7261b" stroke-width="2.80" stroke-linecap="butt"/>
<line x1="302.69" y1="818.71" x2="317.69" y2="818.71" stroke="#f7261b" stroke-width="2.80" stroke-linecap="butt"/>
<rect x="303.69" y="788.41" width="13.00" height="13.00" fill="#f7261b"/>
<line x1="372.12" y1="840.85" x2="372.12" y2="888.44" stroke="#f7261b" stroke-width="2.80" stroke-linecap="butt"/>
<line x1="364.62" y1="840.85" x2="379.62" y2="840.85" stroke="#f7261b" stroke-width="2.80" stroke-linecap="butt"/>
<line x1="364.62" y1="888.44" x2="379.62" y2="888.44" stroke="#f7261b" stroke-width="2.80" stroke-linecap="butt"/>
<rect x="365.62" y="858.15" width="13.00" height="13.00" fill="#f7261b"/>
<line x1="434.05" y1="903.32" x2="434.05" y2="928.43" stroke="#f7261b" stroke-width="2.80" stroke-linecap="butt"/>
<line x1="426.55" y1="903.32" x2="441.55" y2="903.32" stroke="#f7261b" stroke-width="2.80" stroke-linecap="butt"/>
<line x1="426.55" y1="928.43" x2="441.55" y2="928.43" stroke="#f7261b" stroke-width="2.80" stroke-linecap="butt"/>
<rect x="427.55" y="909.38" width="13.00" height="13.00" fill="#f7261b"/>
<line x1="495.98" y1="926.45" x2="495.98" y2="940.99" stroke="#f7261b" stroke-width="2.80" stroke-linecap="butt"/>
<line x1="488.48" y1="926.45" x2="503.48" y2="926.45" stroke="#f7261b" stroke-width="2.80" stroke-linecap="butt"/>
<line x1="488.48" y1="940.99" x2="503.48" y2="940.99" stroke="#f7261b" stroke-width="2.80" stroke-linecap="butt"/>
<rect x="489.48" y="927.22" width="13.00" height="13.00" fill="#f7261b"/>
<line x1="557.91" y1="941.59" x2="557.91" y2="948.20" stroke="#f7261b" stroke-width="2.80" stroke-linecap="butt"/>
<line x1="550.41" y1="941.59" x2="565.41" y2="941.59" stroke="#f7261b" stroke-width="2.80" stroke-linecap="butt"/>
<line x1="550.41" y1="948.20" x2="565.41" y2="948.20" stroke="#f7261b" stroke-width="2.80" stroke-linecap="butt"/>
<rect x="551.41" y="938.39" width="13.00" height="13.00" fill="#f7261b"/>
<polyline points="124.40,692.79 186.33,716.58 248.26,849.78 310.19,915.54 372.12,945.95 434.05,951.90 495.98,951.90 557.91,951.90" fill="none" stroke="#000" stroke-width="3.00" stroke-linejoin="round"/>
<line x1="124.40" y1="688.16" x2="124.40" y2="697.41" stroke="#000" stroke-width="2.80" stroke-linecap="butt"/>
<line x1="116.90" y1="688.16" x2="131.90" y2="688.16" stroke="#000" stroke-width="2.80" stroke-linecap="butt"/>
<line x1="116.90" y1="697.41" x2="131.90" y2="697.41" stroke="#000" stroke-width="2.80" stroke-linecap="butt"/>
<circle cx="124.40" cy="692.79" r="6.50" fill="#000"/>
<line x1="186.33" y1="704.69" x2="186.33" y2="728.48" stroke="#000" stroke-width="2.80" stroke-linecap="butt"/>
<line x1="178.83" y1="704.69" x2="193.83" y2="704.69" stroke="#000" stroke-width="2.80" stroke-linecap="butt"/>
<line x1="178.83" y1="728.48" x2="193.83" y2="728.48" stroke="#000" stroke-width="2.80" stroke-linecap="butt"/>
<circle cx="186.33" cy="716.58" r="6.50" fill="#000"/>
<line x1="248.26" y1="835.23" x2="248.26" y2="864.32" stroke="#000" stroke-width="2.80" stroke-linecap="butt"/>
<line x1="240.76" y1="835.23" x2="255.76" y2="835.23" stroke="#000" stroke-width="2.80" stroke-linecap="butt"/>
<line x1="240.76" y1="864.32" x2="255.76" y2="864.32" stroke="#000" stroke-width="2.80" stroke-linecap="butt"/>
<circle cx="248.26" cy="849.78" r="6.50" fill="#000"/>
<line x1="310.19" y1="903.65" x2="310.19" y2="927.44" stroke="#000" stroke-width="2.80" stroke-linecap="butt"/>
<line x1="302.69" y1="903.65" x2="317.69" y2="903.65" stroke="#000" stroke-width="2.80" stroke-linecap="butt"/>
<line x1="302.69" y1="927.44" x2="317.69" y2="927.44" stroke="#000" stroke-width="2.80" stroke-linecap="butt"/>
<circle cx="310.19" cy="915.54" r="6.50" fill="#000"/>
<line x1="372.12" y1="943.31" x2="372.12" y2="948.60" stroke="#000" stroke-width="2.80" stroke-linecap="butt"/>
<line x1="364.62" y1="943.31" x2="379.62" y2="943.31" stroke="#000" stroke-width="2.80" stroke-linecap="butt"/>
<line x1="364.62" y1="948.60" x2="379.62" y2="948.60" stroke="#000" stroke-width="2.80" stroke-linecap="butt"/>
<circle cx="372.12" cy="945.95" r="6.50" fill="#000"/>
<circle cx="434.05" cy="951.90" r="6.50" fill="#000"/>
<circle cx="495.98" cy="951.90" r="6.50" fill="#000"/>
<circle cx="557.91" cy="951.90" r="6.50" fill="#000"/>
<text transform="translate(264.34 1045.94) scale(0.9895 1)" font-size="32.08" font-weight="bold" fill="#000">Time (hrs)</text>
<text transform="translate(37.50 936.60) rotate(-90)" font-size="39.00" font-weight="bold" textLength="313.90" lengthAdjust="spacingAndGlyphs">Wound area (mm<tspan font-size="26.13" dy="-14.04">2</tspan><tspan dy="14.04">)</tspan></text>
<text transform="translate(224.07 670.93) scale(0.9603 1)" font-size="47.57" font-weight="bold" fill="#000">*</text>
<text transform="translate(245.77 670.93) scale(0.9603 1)" font-size="47.57" font-weight="bold" fill="#000">*</text>
<text transform="translate(267.47 670.93) scale(0.9603 1)" font-size="47.57" font-weight="bold" fill="#000">*</text>
<polyline points="329.60,627.00 304.40,627.00 304.40,669.90 331.70,669.90" fill="none" stroke="#000" stroke-width="3.20" stroke-linejoin="round"/>
<line x1="337.70" y1="625.80" x2="375.10" y2="625.80" stroke="#000" stroke-width="3.00" stroke-linecap="butt"/>
<circle cx="357.00" cy="625.80" r="7.00" fill="#000"/>
<line x1="338.60" y1="665.80" x2="376.80" y2="665.80" stroke="#f7261b" stroke-width="3.00" stroke-linecap="butt"/>
<rect x="351.30" y="659.90" width="13.00" height="13.00" fill="#f7261b"/>
<text transform="translate(393.47 638.00) scale(1.0239 1)" font-size="31.08" font-weight="bold" fill="#000">BLT2 WT</text>
<text transform="translate(395.13 678.50) scale(1.0597 1)" font-size="30.65" font-weight="bold" fill="#000">BLT2 KO</text>
<text transform="translate(631.12 549.66) scale(0.9833 1)" font-size="65.68" font-weight="normal" fill="#000">C</text>
<text transform="translate(811.20 548.21) scale(0.9808 1)" font-size="50.28" font-weight="bold" fill="#000">BLT2 KO</text>
<line x1="813.40" y1="555.00" x2="1021.20" y2="555.00" stroke="#000" stroke-width="3.80" stroke-linecap="butt"/>
<line x1="703.40" y1="619.30" x2="703.40" y2="954.00" stroke="#000" stroke-width="4.20" stroke-linecap="butt"/>
<line x1="690.30" y1="951.90" x2="1197.90" y2="951.90" stroke="#000" stroke-width="4.20" stroke-linecap="butt"/>
<line x1="690.30" y1="885.80" x2="703.40" y2="885.80" stroke="#000" stroke-width="4.20" stroke-linecap="butt"/>
<line x1="690.30" y1="819.70" x2="703.40" y2="819.70" stroke="#000" stroke-width="4.20" stroke-linecap="butt"/>
<line x1="690.30" y1="753.60" x2="703.40" y2="753.60" stroke="#000" stroke-width="4.20" stroke-linecap="butt"/>
<line x1="690.30" y1="687.50" x2="703.40" y2="687.50" stroke="#000" stroke-width="4.20" stroke-linecap="butt"/>
<line x1="690.30" y1="621.40" x2="703.40" y2="621.40" stroke="#000" stroke-width="4.20" stroke-linecap="butt"/>
<line x1="733.70" y1="951.90" x2="733.70" y2="964.90" stroke="#000" stroke-width="4.20" stroke-linecap="butt"/>
<line x1="795.60" y1="951.90" x2="795.60" y2="964.90" stroke="#000" stroke-width="4.20" stroke-linecap="butt"/>
<line x1="857.50" y1="951.90" x2="857.50" y2="964.90" stroke="#000" stroke-width="4.20" stroke-linecap="butt"/>
<line x1="919.40" y1="951.90" x2="919.40" y2="964.90" stroke="#000" stroke-width="4.20" stroke-linecap="butt"/>
<line x1="981.30" y1="951.90" x2="981.30" y2="964.90" stroke="#000" stroke-width="4.20" stroke-linecap="butt"/>
<line x1="1043.20" y1="951.90" x2="1043.20" y2="964.90" stroke="#000" stroke-width="4.20" stroke-linecap="butt"/>
<line x1="1105.10" y1="951.90" x2="1105.10" y2="964.90" stroke="#000" stroke-width="4.20" stroke-linecap="butt"/>
<line x1="1167.00" y1="951.90" x2="1167.00" y2="964.90" stroke="#000" stroke-width="4.20" stroke-linecap="butt"/>
<text x="671.16" y="963.50" font-size="32.50" font-weight="bold">0</text>
<text x="670.73" y="897.40" font-size="32.50" font-weight="bold">1</text>
<text x="671.13" y="831.30" font-size="32.50" font-weight="bold">2</text>
<text x="671.00" y="765.20" font-size="32.50" font-weight="bold">3</text>
<text x="670.00" y="699.10" font-size="32.50" font-weight="bold">4</text>
<text x="670.73" y="633.00" font-size="32.50" font-weight="bold">5</text>
<text x="724.69" y="995.00" font-size="32.50" font-weight="bold" fill="#000">0</text>
<text x="786.55" y="995.00" font-size="32.50" font-weight="bold" fill="#000">8</text>
<text x="838.99" y="995.00" font-size="32.50" font-weight="bold" fill="#000">16</text>
<text x="900.85" y="995.00" font-size="32.50" font-weight="bold" fill="#000">24</text>
<text x="963.50" y="995.00" font-size="32.50" font-weight="bold" fill="#000">32</text>
<text x="1025.55" y="995.00" font-size="32.50" font-weight="bold" fill="#000">40</text>
<text x="1087.28" y="995.00" font-size="32.50" font-weight="bold" fill="#000">48</text>
<text x="1149.01" y="995.00" font-size="32.50" font-weight="bold" fill="#000">56</text>
<polyline points="733.70,725.18 795.60,737.41 857.50,777.40 919.40,853.41 981.30,922.49 1043.20,948.60 1105.10,951.90 1167.00,951.90" fill="none" stroke="#000" stroke-width="3.00" stroke-linejoin="round"/>
<line x1="733.70" y1="721.87" x2="733.70" y2="728.48" stroke="#000" stroke-width="2.80" stroke-linecap="butt"/>
<line x1="726.20" y1="721.87" x2="741.20" y2="721.87" stroke="#000" stroke-width="2.80" stroke-linecap="butt"/>
<line x1="726.20" y1="728.48" x2="741.20" y2="728.48" stroke="#000" stroke-width="2.80" stroke-linecap="butt"/>
<rect x="727.20" y="718.68" width="13.00" height="13.00" fill="#000"/>
<line x1="795.60" y1="732.78" x2="795.60" y2="742.03" stroke="#000" stroke-width="2.80" stroke-linecap="butt"/>
<line x1="788.10" y1="732.78" x2="803.10" y2="732.78" stroke="#000" stroke-width="2.80" stroke-linecap="butt"/>
<line x1="788.10" y1="742.03" x2="803.10" y2="742.03" stroke="#000" stroke-width="2.80" stroke-linecap="butt"/>
<rect x="789.10" y="730.91" width="13.00" height="13.00" fill="#000"/>
<line x1="857.50" y1="768.14" x2="857.50" y2="786.65" stroke="#000" stroke-width="2.80" stroke-linecap="butt"/>
<line x1="850.00" y1="768.14" x2="865.00" y2="768.14" stroke="#000" stroke-width="2.80" stroke-linecap="butt"/>
<line x1="850.00" y1="786.65" x2="865.00" y2="786.65" stroke="#000" stroke-width="2.80" stroke-linecap="butt"/>
<rect x="851.00" y="770.90" width="13.00" height="13.00" fill="#000"/>
<line x1="919.40" y1="838.87" x2="919.40" y2="867.95" stroke="#000" stroke-width="2.80" stroke-linecap="butt"/>
<line x1="911.90" y1="838.87" x2="926.90" y2="838.87" stroke="#000" stroke-width="2.80" stroke-linecap="butt"/>
<line x1="911.90" y1="867.95" x2="926.90" y2="867.95" stroke="#000" stroke-width="2.80" stroke-linecap="butt"/>
<rect x="912.90" y="846.91" width="13.00" height="13.00" fill="#000"/>
<line x1="981.30" y1="912.57" x2="981.30" y2="932.40" stroke="#000" stroke-width="2.80" stroke-linecap="butt"/>
<line x1="973.80" y1="912.57" x2="988.80" y2="912.57" stroke="#000" stroke-width="2.80" stroke-linecap="butt"/>
<line x1="973.80" y1="932.40" x2="988.80" y2="932.40" stroke="#000" stroke-width="2.80" stroke-linecap="butt"/>
<rect x="974.80" y="915.99" width="13.00" height="13.00" fill="#000"/>
<line x1="1043.20" y1="946.61" x2="1043.20" y2="950.58" stroke="#000" stroke-width="2.80" stroke-linecap="butt"/>
<line x1="1035.70" y1="946.61" x2="1050.70" y2="946.61" stroke="#000" stroke-width="2.80" stroke-linecap="butt"/>
<line x1="1035.70" y1="950.58" x2="1050.70" y2="950.58" stroke="#000" stroke-width="2.80" stroke-linecap="butt"/>
<rect x="1036.70" y="942.10" width="13.00" height="13.00" fill="#000"/>
<line x1="1105.10" y1="950.58" x2="1105.10" y2="953.22" stroke="#000" stroke-width="2.80" stroke-linecap="butt"/>
<line x1="1097.60" y1="950.58" x2="1112.60" y2="950.58" stroke="#000" stroke-width="2.80" stroke-linecap="butt"/>
<line x1="1097.60" y1="953.22" x2="1112.60" y2="953.22" stroke="#000" stroke-width="2.80" stroke-linecap="butt"/>
<rect x="1098.60" y="945.40" width="13.00" height="13.00" fill="#000"/>
<line x1="1167.00" y1="950.58" x2="1167.00" y2="953.22" stroke="#000" stroke-width="2.80" stroke-linecap="butt"/>
<line x1="1159.50" y1="950.58" x2="1174.50" y2="950.58" stroke="#000" stroke-width="2.80" stroke-linecap="butt"/>
<line x1="1159.50" y1="953.22" x2="1174.50" y2="953.22" stroke="#000" stroke-width="2.80" stroke-linecap="butt"/>
<rect x="1160.50" y="945.40" width="13.00" height="13.00" fill="#000"/>
<polyline points="733.70,717.91 795.60,723.19 857.50,768.14 919.40,846.80 981.30,893.93 1043.20,936.90 1105.10,942.98 1167.00,946.41" fill="none" stroke="#1b3cf2" stroke-width="3.00" stroke-linejoin="round"/>
<line x1="733.70" y1="714.60" x2="733.70" y2="721.21" stroke="#1b3cf2" stroke-width="2.80" stroke-linecap="butt"/>
<line x1="726.20" y1="714.60" x2="741.20" y2="714.60" stroke="#1b3cf2" stroke-width="2.80" stroke-linecap="butt"/>
<line x1="726.20" y1="721.21" x2="741.20" y2="721.21" stroke="#1b3cf2" stroke-width="2.80" stroke-linecap="butt"/>
<circle cx="733.70" cy="717.91" r="6.50" fill="#1b3cf2"/>
<line x1="795.60" y1="719.23" x2="795.60" y2="727.16" stroke="#1b3cf2" stroke-width="2.80" stroke-linecap="butt"/>
<line x1="788.10" y1="719.23" x2="803.10" y2="719.23" stroke="#1b3cf2" stroke-width="2.80" stroke-linecap="butt"/>
<line x1="788.10" y1="727.16" x2="803.10" y2="727.16" stroke="#1b3cf2" stroke-width="2.80" stroke-linecap="butt"/>
<circle cx="795.60" cy="723.19" r="6.50" fill="#1b3cf2"/>
<line x1="857.50" y1="757.90" x2="857.50" y2="778.39" stroke="#1b3cf2" stroke-width="2.80" stroke-linecap="butt"/>
<line x1="850.00" y1="757.90" x2="865.00" y2="757.90" stroke="#1b3cf2" stroke-width="2.80" stroke-linecap="butt"/>
<line x1="850.00" y1="778.39" x2="865.00" y2="778.39" stroke="#1b3cf2" stroke-width="2.80" stroke-linecap="butt"/>
<circle cx="857.50" cy="768.14" r="6.50" fill="#1b3cf2"/>
<line x1="919.40" y1="830.61" x2="919.40" y2="863.00" stroke="#1b3cf2" stroke-width="2.80" stroke-linecap="butt"/>
<line x1="911.90" y1="830.61" x2="926.90" y2="830.61" stroke="#1b3cf2" stroke-width="2.80" stroke-linecap="butt"/>
<line x1="911.90" y1="863.00" x2="926.90" y2="863.00" stroke="#1b3cf2" stroke-width="2.80" stroke-linecap="butt"/>
<circle cx="919.40" cy="846.80" r="6.50" fill="#1b3cf2"/>
<line x1="981.30" y1="882.36" x2="981.30" y2="905.50" stroke="#1b3cf2" stroke-width="2.80" stroke-linecap="butt"/>
<line x1="973.80" y1="882.36" x2="988.80" y2="882.36" stroke="#1b3cf2" stroke-width="2.80" stroke-linecap="butt"/>
<line x1="973.80" y1="905.50" x2="988.80" y2="905.50" stroke="#1b3cf2" stroke-width="2.80" stroke-linecap="butt"/>
<circle cx="981.30" cy="893.93" r="6.50" fill="#1b3cf2"/>
<line x1="1043.20" y1="932.27" x2="1043.20" y2="941.52" stroke="#1b3cf2" stroke-width="2.80" stroke-linecap="butt"/>
<line x1="1035.70" y1="932.27" x2="1050.70" y2="932.27" stroke="#1b3cf2" stroke-width="2.80" stroke-linecap="butt"/>
<line x1="1035.70" y1="941.52" x2="1050.70" y2="941.52" stroke="#1b3cf2" stroke-width="2.80" stroke-linecap="butt"/>
<circle cx="1043.20" cy="936.90" r="6.50" fill="#1b3cf2"/>
<line x1="1105.10" y1="938.35" x2="1105.10" y2="947.60" stroke="#1b3cf2" stroke-width="2.80" stroke-linecap="butt"/>
<line x1="1097.60" y1="938.35" x2="1112.60" y2="938.35" stroke="#1b3cf2" stroke-width="2.80" stroke-linecap="butt"/>
<line x1="1097.60" y1="947.60" x2="1112.60" y2="947.60" stroke="#1b3cf2" stroke-width="2.80" stroke-linecap="butt"/>
<circle cx="1105.10" cy="942.98" r="6.50" fill="#1b3cf2"/>
<line x1="1167.00" y1="943.77" x2="1167.00" y2="949.06" stroke="#1b3cf2" stroke-width="2.80" stroke-linecap="butt"/>
<line x1="1159.50" y1="943.77" x2="1174.50" y2="943.77" stroke="#1b3cf2" stroke-width="2.80" stroke-linecap="butt"/>
<line x1="1159.50" y1="949.06" x2="1174.50" y2="949.06" stroke="#1b3cf2" stroke-width="2.80" stroke-linecap="butt"/>
<circle cx="1167.00" cy="946.41" r="6.50" fill="#1b3cf2"/>
<text transform="translate(873.84 1045.94) scale(0.9902 1)" font-size="32.08" font-weight="bold" fill="#000">Time (hrs)</text>
<text transform="translate(647.50 936.60) rotate(-90)" font-size="39.00" font-weight="bold" textLength="314.80" lengthAdjust="spacingAndGlyphs">Wound area (mm<tspan font-size="26.13" dy="-14.04">2</tspan><tspan dy="14.04">)</tspan></text>
<text transform="translate(817.68 657.86) scale(0.9532 1)" font-size="44.86" font-weight="bold" fill="#000">n.s.</text>
<polyline points="932.60,627.40 907.20,627.40 907.20,669.50 934.70,669.50" fill="none" stroke="#000" stroke-width="3.40" stroke-linejoin="round"/>
<line x1="942.10" y1="626.30" x2="980.00" y2="626.30" stroke="#000" stroke-width="3.00" stroke-linecap="butt"/>
<rect x="954.80" y="620.30" width="13.00" height="13.00" fill="#000"/>
<line x1="940.50" y1="667.70" x2="978.40" y2="667.70" stroke="#1b3cf2" stroke-width="3.00" stroke-linecap="butt"/>
<circle cx="959.50" cy="667.60" r="6.30" fill="#1b3cf2"/>
<text transform="translate(998.68 638.59) scale(0.9836 1)" font-size="32.14" font-weight="bold" fill="#000">Vehicle</text>
<text transform="translate(997.65 679.68) scale(0.9831 1)" font-size="32.27" font-weight="bold" fill="#000">0.1% Diclofenac</text>
<text transform="translate(1289.92 550.30) scale(0.9621 1)" font-size="66.86" font-weight="normal" fill="#000">D</text>
<line x1="1353.80" y1="627.60" x2="1353.80" y2="957.30" stroke="#000" stroke-width="4.20" stroke-linecap="butt"/>
<line x1="1341.00" y1="955.20" x2="1844.80" y2="955.20" stroke="#000" stroke-width="4.20" stroke-linecap="butt"/>
<line x1="1341.00" y1="890.10" x2="1353.80" y2="890.10" stroke="#000" stroke-width="4.20" stroke-linecap="butt"/>
<line x1="1341.00" y1="825.00" x2="1353.80" y2="825.00" stroke="#000" stroke-width="4.20" stroke-linecap="butt"/>
<line x1="1341.00" y1="759.90" x2="1353.80" y2="759.90" stroke="#000" stroke-width="4.20" stroke-linecap="butt"/>
<line x1="1341.00" y1="694.80" x2="1353.80" y2="694.80" stroke="#000" stroke-width="4.20" stroke-linecap="butt"/>
<line x1="1341.00" y1="629.70" x2="1353.80" y2="629.70" stroke="#000" stroke-width="4.20" stroke-linecap="butt"/>
<line x1="1384.20" y1="955.20" x2="1384.20" y2="967.70" stroke="#000" stroke-width="4.20" stroke-linecap="butt"/>
<line x1="1445.65" y1="955.20" x2="1445.65" y2="967.70" stroke="#000" stroke-width="4.20" stroke-linecap="butt"/>
<line x1="1507.10" y1="955.20" x2="1507.10" y2="967.70" stroke="#000" stroke-width="4.20" stroke-linecap="butt"/>
<line x1="1568.55" y1="955.20" x2="1568.55" y2="967.70" stroke="#000" stroke-width="4.20" stroke-linecap="butt"/>
<line x1="1630.00" y1="955.20" x2="1630.00" y2="967.70" stroke="#000" stroke-width="4.20" stroke-linecap="butt"/>
<line x1="1691.45" y1="955.20" x2="1691.45" y2="967.70" stroke="#000" stroke-width="4.20" stroke-linecap="butt"/>
<line x1="1752.90" y1="955.20" x2="1752.90" y2="967.70" stroke="#000" stroke-width="4.20" stroke-linecap="butt"/>
<line x1="1814.35" y1="955.20" x2="1814.35" y2="967.70" stroke="#000" stroke-width="4.20" stroke-linecap="butt"/>
<text x="1322.66" y="966.80" font-size="32.50" font-weight="bold">0</text>
<text x="1322.23" y="901.70" font-size="32.50" font-weight="bold">1</text>
<text x="1322.63" y="836.60" font-size="32.50" font-weight="bold">2</text>
<text x="1322.50" y="771.50" font-size="32.50" font-weight="bold">3</text>
<text x="1321.50" y="706.40" font-size="32.50" font-weight="bold">4</text>
<text x="1322.23" y="641.30" font-size="32.50" font-weight="bold">5</text>
<text x="1375.19" y="997.80" font-size="32.50" font-weight="bold" fill="#000">0</text>
<text x="1436.60" y="997.80" font-size="32.50" font-weight="bold" fill="#000">8</text>
<text x="1488.59" y="997.80" font-size="32.50" font-weight="bold" fill="#000">16</text>
<text x="1550.00" y="997.80" font-size="32.50" font-weight="bold" fill="#000">24</text>
<text x="1612.20" y="997.80" font-size="32.50" font-weight="bold" fill="#000">32</text>
<text x="1673.80" y="997.80" font-size="32.50" font-weight="bold" fill="#000">40</text>
<text x="1735.08" y="997.80" font-size="32.50" font-weight="bold" fill="#000">48</text>
<text x="1796.36" y="997.80" font-size="32.50" font-weight="bold" fill="#000">56</text>
<polyline points="1384.20,732.56 1445.65,767.71 1507.10,886.85 1568.55,949.34 1630.00,955.20 1691.45,955.20 1752.90,955.20 1814.35,955.20" fill="none" stroke="#1b3cf2" stroke-width="3.00" stroke-linejoin="round"/>
<line x1="1384.20" y1="729.30" x2="1384.20" y2="735.81" stroke="#1b3cf2" stroke-width="2.80" stroke-linecap="butt"/>
<line x1="1376.70" y1="729.30" x2="1391.70" y2="729.30" stroke="#1b3cf2" stroke-width="2.80" stroke-linecap="butt"/>
<line x1="1376.70" y1="735.81" x2="1391.70" y2="735.81" stroke="#1b3cf2" stroke-width="2.80" stroke-linecap="butt"/>
<circle cx="1384.20" cy="732.56" r="6.50" fill="#1b3cf2"/>
<line x1="1445.65" y1="763.16" x2="1445.65" y2="772.27" stroke="#1b3cf2" stroke-width="2.80" stroke-linecap="butt"/>
<line x1="1438.15" y1="763.16" x2="1453.15" y2="763.16" stroke="#1b3cf2" stroke-width="2.80" stroke-linecap="butt"/>
<line x1="1438.15" y1="772.27" x2="1453.15" y2="772.27" stroke="#1b3cf2" stroke-width="2.80" stroke-linecap="butt"/>
<circle cx="1445.65" cy="767.71" r="6.50" fill="#1b3cf2"/>
<line x1="1507.10" y1="884.24" x2="1507.10" y2="889.45" stroke="#1b3cf2" stroke-width="2.80" stroke-linecap="butt"/>
<line x1="1499.60" y1="884.24" x2="1514.60" y2="884.24" stroke="#1b3cf2" stroke-width="2.80" stroke-linecap="butt"/>
<line x1="1499.60" y1="889.45" x2="1514.60" y2="889.45" stroke="#1b3cf2" stroke-width="2.80" stroke-linecap="butt"/>
<circle cx="1507.10" cy="886.85" r="6.50" fill="#1b3cf2"/>
<line x1="1568.55" y1="947.39" x2="1568.55" y2="951.29" stroke="#1b3cf2" stroke-width="2.80" stroke-linecap="butt"/>
<line x1="1561.05" y1="947.39" x2="1576.05" y2="947.39" stroke="#1b3cf2" stroke-width="2.80" stroke-linecap="butt"/>
<line x1="1561.05" y1="951.29" x2="1576.05" y2="951.29" stroke="#1b3cf2" stroke-width="2.80" stroke-linecap="butt"/>
<circle cx="1568.55" cy="949.34" r="6.50" fill="#1b3cf2"/>
<circle cx="1630.00" cy="955.20" r="6.50" fill="#1b3cf2"/>
<circle cx="1691.45" cy="955.20" r="6.50" fill="#1b3cf2"/>
<circle cx="1752.90" cy="955.20" r="6.50" fill="#1b3cf2"/>
<circle cx="1814.35" cy="955.20" r="6.50" fill="#1b3cf2"/>
<polyline points="1384.20,720.19 1445.65,751.44 1507.10,879.03 1568.55,944.78 1630.00,953.90 1691.45,953.90 1752.90,953.90 1814.35,953.25" fill="none" stroke="#f7261b" stroke-width="3.00" stroke-linejoin="round"/>
<line x1="1384.20" y1="715.63" x2="1384.20" y2="724.75" stroke="#f7261b" stroke-width="2.80" stroke-linecap="butt"/>
<line x1="1376.70" y1="715.63" x2="1391.70" y2="715.63" stroke="#f7261b" stroke-width="2.80" stroke-linecap="butt"/>
<line x1="1376.70" y1="724.75" x2="1391.70" y2="724.75" stroke="#f7261b" stroke-width="2.80" stroke-linecap="butt"/>
<rect x="1377.70" y="713.69" width="13.00" height="13.00" fill="#f7261b"/>
<line x1="1445.65" y1="744.93" x2="1445.65" y2="757.95" stroke="#f7261b" stroke-width="2.80" stroke-linecap="butt"/>
<line x1="1438.15" y1="744.93" x2="1453.15" y2="744.93" stroke="#f7261b" stroke-width="2.80" stroke-linecap="butt"/>
<line x1="1438.15" y1="757.95" x2="1453.15" y2="757.95" stroke="#f7261b" stroke-width="2.80" stroke-linecap="butt"/>
<rect x="1439.15" y="744.94" width="13.00" height="13.00" fill="#f7261b"/>
<line x1="1507.10" y1="869.27" x2="1507.10" y2="888.80" stroke="#f7261b" stroke-width="2.80" stroke-linecap="butt"/>
<line x1="1499.60" y1="869.27" x2="1514.60" y2="869.27" stroke="#f7261b" stroke-width="2.80" stroke-linecap="butt"/>
<line x1="1499.60" y1="888.80" x2="1514.60" y2="888.80" stroke="#f7261b" stroke-width="2.80" stroke-linecap="butt"/>
<rect x="1500.60" y="872.53" width="13.00" height="13.00" fill="#f7261b"/>
<line x1="1568.55" y1="941.53" x2="1568.55" y2="948.04" stroke="#f7261b" stroke-width="2.80" stroke-linecap="butt"/>
<line x1="1561.05" y1="941.53" x2="1576.05" y2="941.53" stroke="#f7261b" stroke-width="2.80" stroke-linecap="butt"/>
<line x1="1561.05" y1="948.04" x2="1576.05" y2="948.04" stroke="#f7261b" stroke-width="2.80" stroke-linecap="butt"/>
<rect x="1562.05" y="938.28" width="13.00" height="13.00" fill="#f7261b"/>
<line x1="1630.00" y1="952.60" x2="1630.00" y2="955.20" stroke="#f7261b" stroke-width="2.80" stroke-linecap="butt"/>
<line x1="1622.50" y1="952.60" x2="1637.50" y2="952.60" stroke="#f7261b" stroke-width="2.80" stroke-linecap="butt"/>
<line x1="1622.50" y1="955.20" x2="1637.50" y2="955.20" stroke="#f7261b" stroke-width="2.80" stroke-linecap="butt"/>
<rect x="1623.50" y="947.40" width="13.00" height="13.00" fill="#f7261b"/>
<line x1="1691.45" y1="952.60" x2="1691.45" y2="955.20" stroke="#f7261b" stroke-width="2.80" stroke-linecap="butt"/>
<line x1="1683.95" y1="952.60" x2="1698.95" y2="952.60" stroke="#f7261b" stroke-width="2.80" stroke-linecap="butt"/>
<line x1="1683.95" y1="955.20" x2="1698.95" y2="955.20" stroke="#f7261b" stroke-width="2.80" stroke-linecap="butt"/>
<rect x="1684.95" y="947.40" width="13.00" height="13.00" fill="#f7261b"/>
<line x1="1752.90" y1="952.60" x2="1752.90" y2="955.20" stroke="#f7261b" stroke-width="2.80" stroke-linecap="butt"/>
<line x1="1745.40" y1="952.60" x2="1760.40" y2="952.60" stroke="#f7261b" stroke-width="2.80" stroke-linecap="butt"/>
<line x1="1745.40" y1="955.20" x2="1760.40" y2="955.20" stroke="#f7261b" stroke-width="2.80" stroke-linecap="butt"/>
<rect x="1746.40" y="947.40" width="13.00" height="13.00" fill="#f7261b"/>
<line x1="1814.35" y1="951.29" x2="1814.35" y2="955.20" stroke="#f7261b" stroke-width="2.80" stroke-linecap="butt"/>
<line x1="1806.85" y1="951.29" x2="1821.85" y2="951.29" stroke="#f7261b" stroke-width="2.80" stroke-linecap="butt"/>
<line x1="1806.85" y1="955.20" x2="1821.85" y2="955.20" stroke="#f7261b" stroke-width="2.80" stroke-linecap="butt"/>
<rect x="1807.85" y="946.75" width="13.00" height="13.00" fill="#f7261b"/>
<polyline points="1384.20,733.86 1445.65,755.99 1507.10,834.77 1568.55,890.10 1630.00,944.78 1691.45,950.64 1752.90,952.60 1814.35,953.25" fill="none" stroke="#000" stroke-width="3.00" stroke-linejoin="round"/>
<line x1="1384.20" y1="729.95" x2="1384.20" y2="737.77" stroke="#000" stroke-width="2.80" stroke-linecap="butt"/>
<line x1="1376.70" y1="729.95" x2="1391.70" y2="729.95" stroke="#000" stroke-width="2.80" stroke-linecap="butt"/>
<line x1="1376.70" y1="737.77" x2="1391.70" y2="737.77" stroke="#000" stroke-width="2.80" stroke-linecap="butt"/>
<polygon points="1384.20,727.04 1377.70,739.39 1390.70,739.39" fill="#000"/>
<line x1="1445.65" y1="747.53" x2="1445.65" y2="764.46" stroke="#000" stroke-width="2.80" stroke-linecap="butt"/>
<line x1="1438.15" y1="747.53" x2="1453.15" y2="747.53" stroke="#000" stroke-width="2.80" stroke-linecap="butt"/>
<line x1="1438.15" y1="764.46" x2="1453.15" y2="764.46" stroke="#000" stroke-width="2.80" stroke-linecap="butt"/>
<polygon points="1445.65,749.17 1439.15,761.52 1452.15,761.52" fill="#000"/>
<line x1="1507.10" y1="822.72" x2="1507.10" y2="846.81" stroke="#000" stroke-width="2.80" stroke-linecap="butt"/>
<line x1="1499.60" y1="822.72" x2="1514.60" y2="822.72" stroke="#000" stroke-width="2.80" stroke-linecap="butt"/>
<line x1="1499.60" y1="846.81" x2="1514.60" y2="846.81" stroke="#000" stroke-width="2.80" stroke-linecap="butt"/>
<polygon points="1507.10,827.94 1500.60,840.29 1513.60,840.29" fill="#000"/>
<line x1="1568.55" y1="875.78" x2="1568.55" y2="904.42" stroke="#000" stroke-width="2.80" stroke-linecap="butt"/>
<line x1="1561.05" y1="875.78" x2="1576.05" y2="875.78" stroke="#000" stroke-width="2.80" stroke-linecap="butt"/>
<line x1="1561.05" y1="904.42" x2="1576.05" y2="904.42" stroke="#000" stroke-width="2.80" stroke-linecap="butt"/>
<polygon points="1568.55,883.27 1562.05,895.62 1575.05,895.62" fill="#000"/>
<line x1="1630.00" y1="935.67" x2="1630.00" y2="953.90" stroke="#000" stroke-width="2.80" stroke-linecap="butt"/>
<line x1="1622.50" y1="935.67" x2="1637.50" y2="935.67" stroke="#000" stroke-width="2.80" stroke-linecap="butt"/>
<line x1="1622.50" y1="953.90" x2="1637.50" y2="953.90" stroke="#000" stroke-width="2.80" stroke-linecap="butt"/>
<polygon points="1630.00,937.96 1623.50,950.31 1636.50,950.31" fill="#000"/>
<line x1="1691.45" y1="948.69" x2="1691.45" y2="952.60" stroke="#000" stroke-width="2.80" stroke-linecap="butt"/>
<line x1="1683.95" y1="948.69" x2="1698.95" y2="948.69" stroke="#000" stroke-width="2.80" stroke-linecap="butt"/>
<line x1="1683.95" y1="952.60" x2="1698.95" y2="952.60" stroke="#000" stroke-width="2.80" stroke-linecap="butt"/>
<polygon points="1691.45,943.82 1684.95,956.17 1697.95,956.17" fill="#000"/>
<line x1="1752.90" y1="950.64" x2="1752.90" y2="954.55" stroke="#000" stroke-width="2.80" stroke-linecap="butt"/>
<line x1="1745.40" y1="950.64" x2="1760.40" y2="950.64" stroke="#000" stroke-width="2.80" stroke-linecap="butt"/>
<line x1="1745.40" y1="954.55" x2="1760.40" y2="954.55" stroke="#000" stroke-width="2.80" stroke-linecap="butt"/>
<polygon points="1752.90,945.77 1746.40,958.12 1759.40,958.12" fill="#000"/>
<line x1="1814.35" y1="951.29" x2="1814.35" y2="955.20" stroke="#000" stroke-width="2.80" stroke-linecap="butt"/>
<line x1="1806.85" y1="951.29" x2="1821.85" y2="951.29" stroke="#000" stroke-width="2.80" stroke-linecap="butt"/>
<line x1="1806.85" y1="955.20" x2="1821.85" y2="955.20" stroke="#000" stroke-width="2.80" stroke-linecap="butt"/>
<polygon points="1814.35,946.42 1807.85,958.77 1820.85,958.77" fill="#000"/>
<text transform="translate(1524.85 1040.13) scale(0.9745 1)" font-size="31.65" font-weight="bold" fill="#000">Time (hrs)</text>
<text transform="translate(1299.60 945.30) rotate(-90)" font-size="39.00" font-weight="bold" textLength="311.40" lengthAdjust="spacingAndGlyphs">Wound area (mm<tspan font-size="26.13" dy="-14.04">2</tspan><tspan dy="14.04">)</tspan></text>
<text transform="translate(1383.76 697.65) scale(0.9711 1)" font-size="48.92" font-weight="bold" fill="#000">*</text>
<text transform="translate(1405.46 697.65) scale(0.9711 1)" font-size="48.92" font-weight="bold" fill="#000">*</text>
<text transform="translate(1469.16 682.04) scale(1.0261 1)" font-size="47.30" font-weight="bold" fill="#000">*</text>
<polyline points="1535.30,637.80 1442.30,637.80 1442.30,719.40 1534.00,719.40" fill="none" stroke="#000" stroke-width="3.20" stroke-linejoin="round"/>
<polyline points="1509.50,637.80 1509.50,680.40 1537.70,680.40" fill="none" stroke="#000" stroke-width="3.20" stroke-linejoin="round"/>
<line x1="1539.50" y1="637.60" x2="1576.40" y2="637.60" stroke="#000" stroke-width="3.00" stroke-linecap="butt"/>
<polygon points="1558.00,631.67 1551.50,644.02 1564.50,644.02" fill="#000"/>
<line x1="1539.50" y1="678.60" x2="1576.40" y2="678.60" stroke="#f7261b" stroke-width="3.00" stroke-linecap="butt"/>
<rect x="1551.70" y="672.50" width="12.60" height="12.60" fill="#f7261b"/>
<line x1="1539.50" y1="716.70" x2="1576.40" y2="716.70" stroke="#1b3cf2" stroke-width="3.00" stroke-linecap="butt"/>
<circle cx="1557.70" cy="716.70" r="6.20" fill="#1b3cf2"/>
<text transform="translate(1594.49 650.49) scale(0.9599 1)" font-size="31.73" font-weight="bold" fill="#000">Vehicle</text>
<text transform="translate(1594.24 690.29) scale(0.9728 1)" font-size="31.92" font-weight="bold" fill="#000">100 nM 12-HHT</text>
<text transform="translate(1594.26 727.17) scale(0.9951 1)" font-size="30.90" font-weight="bold" fill="#000">10 µM CAY 10583</text>
</svg>
</body></html>
